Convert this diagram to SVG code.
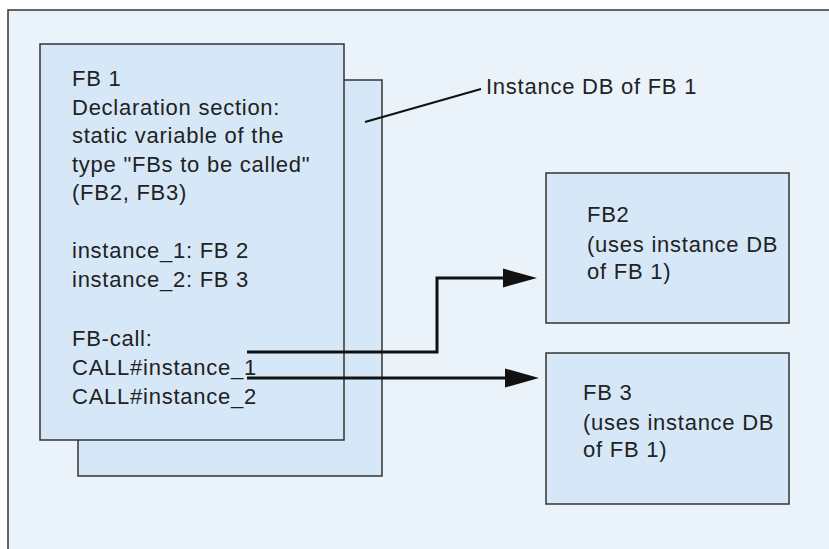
<svg xmlns="http://www.w3.org/2000/svg" width="829" height="549" viewBox="0 0 829 549">
<defs>
<marker id="ah" markerUnits="userSpaceOnUse" viewBox="0 0 34 20" refX="0" refY="10" markerWidth="34" markerHeight="20" orient="auto">
<path d="M0,0.5 L34,10 L0,19.5 Z" fill="#111"/>
</marker>
<style>
.box{fill:#d6e8f7;stroke:#333;stroke-width:1.5}
.t{font-family:"Liberation Sans",Arial,sans-serif;font-size:22px;letter-spacing:0.75px;fill:#222}
.con{fill:none;stroke:#111;stroke-width:3}
</style>
</defs>
<rect x="0" y="0" width="829" height="549" fill="#ffffff"/>
<rect id="frame" x="8" y="10" width="830" height="550" fill="#eaf2fa" stroke="#333" stroke-width="1.5"/>
<g id="instanceDB">
<rect class="box" x="78" y="80" width="304" height="396"/>
</g>
<g id="fb1">
<rect class="box" x="40" y="44" width="304" height="396"/>
<text class="t" x="72" y="86">FB 1</text>
<text class="t" x="72" y="115">Declaration section:</text>
<text class="t" x="72" y="143">static variable of the</text>
<text class="t" x="72" y="172">type "FBs to be called"</text>
<text class="t" x="72" y="200">(FB2, FB3)</text>
<text class="t" x="72" y="258">instance_1: FB 2</text>
<text class="t" x="72" y="287">instance_2: FB 3</text>
<text class="t" x="72" y="346">FB-call:</text>
<text class="t" x="72" y="375">CALL#instance_1</text>
<text class="t" x="72" y="404">CALL#instance_2</text>
</g>
<g id="fb2">
<rect class="box" x="546" y="173" width="243" height="150"/>
<text class="t" x="587" y="222">FB2</text>
<text class="t" x="587" y="252">(uses instance DB</text>
<text class="t" x="587" y="279">of FB 1)</text>
</g>
<g id="fb3">
<rect class="box" x="546" y="353" width="243" height="151"/>
<text class="t" x="583" y="400">FB 3</text>
<text class="t" x="583" y="430">(uses instance DB</text>
<text class="t" x="583" y="457">of FB 1)</text>
</g>
<g id="label">
<text class="t" x="486" y="94">Instance DB of FB 1</text>
</g>
<g id="connectors">
<path d="M365,122 L481,89" fill="none" stroke="#111" stroke-width="2"/>
<path class="con" d="M247,352 H437 V278 H503" marker-end="url(#ah)"/>
<path class="con" d="M247,378 H505" marker-end="url(#ah)"/>
</g>
</svg>
